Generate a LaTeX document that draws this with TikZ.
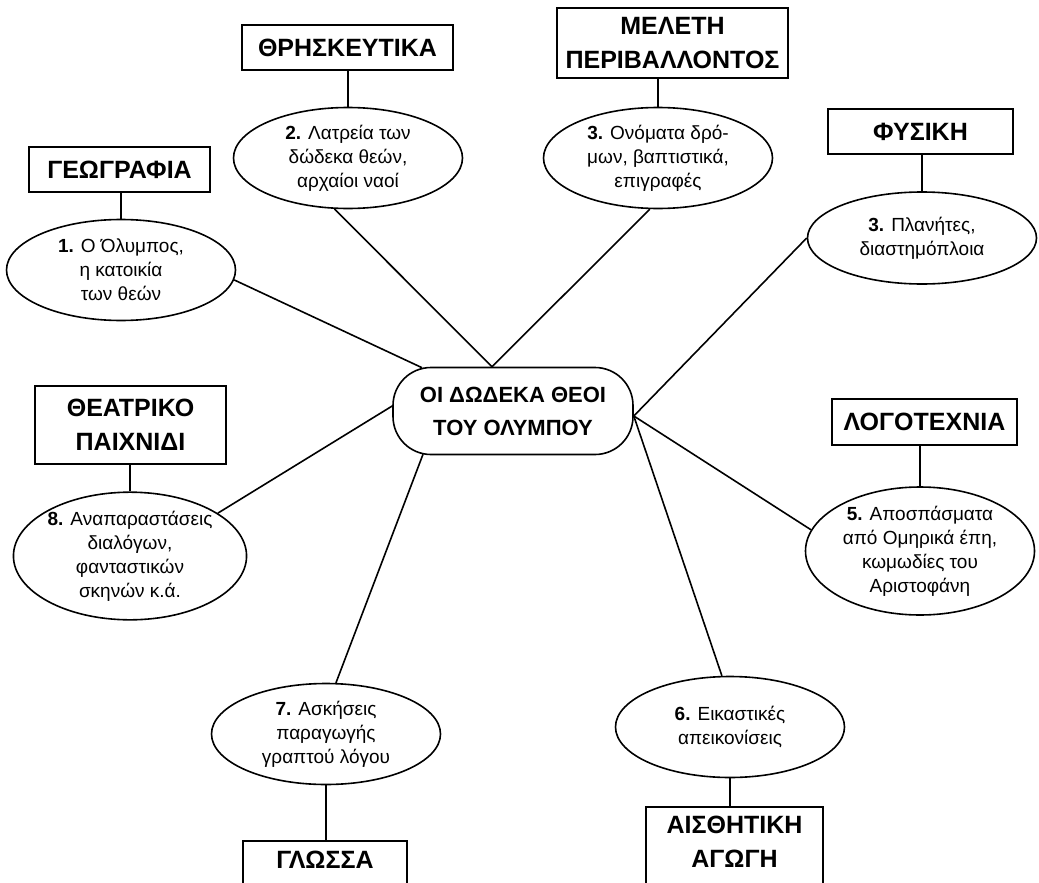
\documentclass[tikz,border=0pt]{standalone}
\usepackage{fontspec}
\setmainfont{Liberation Sans}
\usetikzlibrary{shapes.geometric,positioning}

\begin{document}
\begin{tikzpicture}[x=1pt,y=-1pt,line width=1.6pt,
  subject/.style={draw,rectangle,align=center,inner sep=0pt,font=\fontsize{25}{34}\selectfont\bfseries},
  topic/.style={draw,ellipse,align=center,inner sep=0pt,minimum width=229pt,minimum height=101pt,font=\fontsize{19}{24}\selectfont},
  hubnode/.style={draw,rectangle,rounded corners=38pt,align=center,minimum width=240pt,minimum height=87pt,font=\fontsize{22}{33}\selectfont\bfseries}]
\useasboundingbox (0,0) rectangle (1039,883);
\clip (0,0) rectangle (1039,883);

% centre
\node[hubnode] (hub) at (513,411) {ΟΙ ΔΩΔΕΚΑ ΘΕΟΙ\\ΤΟΥ ΟΛΥΜΠΟΥ};
\coordinate (hubtop) at ([xshift=-21pt]hub.north);
\coordinate (hubnw) at ([xshift=-91pt,yshift=-1pt]hub.north);
\coordinate (hubsw) at ([xshift=-90pt,yshift=1pt]hub.south);
\coordinate (hubwest) at ([yshift=5pt]hub.west);
\coordinate (hubeast) at ([yshift=-5pt]hub.east);

% topics
\node[topic] (olympos) at (121,270) {\textbf{1.} Ο Όλυμπος,\\η κατοικία\\των θεών};
\node[topic] (latreia) at (348,158) {\textbf{2.} Λατρεία των\\δώδεκα θεών,\\αρχαίοι ναοί};
\node[topic] (onomata) at (658,158) {\textbf{3.} Ονόματα δρό-\\μων, βαπτιστικά,\\επιγραφές};
\node[topic,minimum height=92pt] (planites) at (922,238) {\textbf{3.} Πλανήτες,\\διαστημόπλοια};
\node[topic,minimum height=128pt] (apospasmata) at (920,551) {\textbf{5.} Αποσπάσματα\\από Ομηρικά έπη,\\κωμωδίες του\\Αριστοφάνη};
\node[topic] (eikastikes) at (730,727) {\textbf{6.} Εικαστικές\\απεικονίσεις};
\node[topic] (askiseis) at (326,734) {\textbf{7.} Ασκήσεις\\παραγωγής\\γραπτού λόγου};
\node[topic,minimum height=127pt] (anaparastaseis) at (130,556) {\textbf{8.} Αναπαραστάσεις\\διαλόγων,\\φανταστικών\\σκηνών κ.ά.};

% subjects
\node[subject,minimum width=181pt,minimum height=45pt] (geografia) at (119.5,169.5) {ΓΕΩΓΡΑΦΙΑ};
\node[subject,minimum width=211pt,minimum height=45pt] (thriskeftika) at (347.5,47.5) {ΘΡΗΣΚΕΥΤΙΚΑ};
\node[subject,minimum width=231pt,minimum height=70pt] (meleti) at (672.5,43) {ΜΕΛΕΤΗ\\ΠΕΡΙΒΑΛΛΟΝΤΟΣ};
\node[subject,minimum width=185pt,minimum height=45pt] (fysiki) at (920.5,131.5) {ΦΥΣΙΚΗ};
\node[subject,minimum width=185pt,minimum height=46pt] (logotechnia) at (924.5,422) {ΛΟΓΟΤΕΧΝΙΑ};
\node[subject,minimum width=191pt,minimum height=78pt] (theatriko) at (130.5,425) {ΘΕΑΤΡΙΚΟ\\ΠΑΙΧΝΙΔΙ};
\node[subject,minimum width=164pt,anchor=north,inner ysep=10pt,text depth=30pt] (glossa) at (325,840) {ΓΛΩΣΣΑ};
\node[subject,minimum width=177pt,anchor=north,inner ysep=9pt,text depth=30pt] (aisthitiki) at (734.5,806) {ΑΙΣΘΗΤΙΚΗ\\ΑΓΩΓΗ};

% spokes
\draw (olympos.-5) -- (hubnw);
\draw (latreia.-105) -- (hubtop);
\draw (onomata.-99) -- (hubtop);
\draw (planites.west) -- (hubeast);
\draw (apospasmata.169) -- (hubeast);
\draw (eikastikes.99) -- (hubeast);
\draw (askiseis.79) -- (hubsw);
\draw (anaparastaseis.26) -- (hubwest);

% subject links
\foreach \s/\t in {geografia/olympos,thriskeftika/latreia,meleti/onomata,fysiki/planites,logotechnia/apospasmata,theatriko/anaparastaseis}
  \draw (\t.north) -- (\t.north |- \s.south);
\foreach \s/\t in {glossa/askiseis,aisthitiki/eikastikes}
  \draw (\t.south) -- (\t.south |- \s.north);
\end{tikzpicture}
\end{document}
